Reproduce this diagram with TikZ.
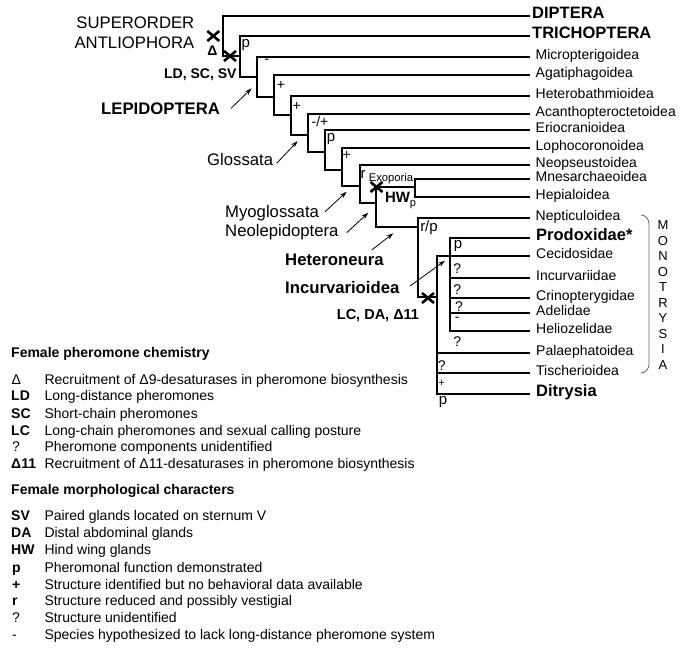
\documentclass[tikz,border=0pt]{standalone}
\usepackage{fontspec}
\setmainfont{Liberation Sans}
\usetikzlibrary{arrows.meta}
\newcommand{\fsz}[1]{\fontsize{#1}{#1}\selectfont}
\tikzset{
  br/.style={line width=1.6pt, line cap=rect},
  tx/.style={anchor=mid west, inner sep=0pt, font=\fsz{14}},
  btx/.style={anchor=mid west, inner sep=0pt, font=\fsz{16.5}\bfseries},
  ch/.style={inner sep=0pt, font=\fsz{14}},
  big/.style={inner sep=0pt, font=\fsz{16.7}},
  bigb/.style={inner sep=0pt, font=\fsz{16.7}\bfseries},
  arr/.style={line width=0.8pt, -{Stealth[length=7pt,width=4.5pt]}},
  key/.style={anchor=mid west, inner sep=0pt, font=\fsz{14}\bfseries},
  keyr/.style={anchor=mid west, inner sep=0pt, font=\fsz{14}},
  desc/.style={anchor=mid west, inner sep=0pt, font=\fsz{14}},
  head/.style={anchor=mid west, inner sep=0pt, font=\fsz{14}\bfseries},
  xmark/.pic={\draw[line width=2.6pt] (-6,-5)--(6,5) (-6,5)--(6,-5);}
}
\begin{document}
\begin{tikzpicture}[x=1pt,y=-1pt]
\useasboundingbox (0,0) rectangle (685,652);
% tips
\foreach \n/\y in {DIP/16,TRI/36,MIC/57,AGA/75,HET/96,ACA/114,ERI/130,LOP/148,NEO/165,MNE/179,HEP/197,NEP/218,PRO/238,CEC/256,INC/278,CRI/298,ADE/313,HEL/331,PAL/353,TIS/373,DIT/394}
  \coordinate (t\n) at (529,\y);
% internal nodes
\coordinate (c0) at (222.7,56);
\coordinate (c1) at (240,77);
\coordinate (c2) at (257,97);
\coordinate (c3) at (274,115);
\coordinate (c4) at (291,135);
\coordinate (c5) at (308,152);
\coordinate (c6) at (325,170);
\coordinate (c7) at (342,186);
\coordinate (c8) at (360,203);
\coordinate (c9) at (376,227);
\coordinate (c9t) at (376,187);
\coordinate (cEx) at (415,197);
\coordinate (c10) at (418,297);
\coordinate (c11) at (436.7,394);
\coordinate (c12) at (450,331);
% tree
\draw[br] (c0) |- (tDIP);
\draw[br] (c0) -- (c0 -| c1);
\draw[br] (c1) |- (tTRI);
\draw[br] (c1) -- (c1 -| c2);
\draw[br] (c2) |- (tMIC);
\draw[br] (c2) -- (c2 -| c3);
\draw[br] (c3) |- (tAGA);
\draw[br] (c3) -- (c3 -| c4);
\draw[br] (c4) |- (tHET);
\draw[br] (c4) -- (c4 -| c5);
\draw[br] (c5) |- (tACA);
\draw[br] (c5) -- (c5 -| c6);
\draw[br] (c6) |- (tERI);
\draw[br] (c6) -- (c6 -| c7);
\draw[br] (c7) |- (tLOP);
\draw[br] (c7) -- (c7 -| c8);
\draw[br] (c8) |- (tNEO);
\draw[br] (c8) -- (c8 -| c9);
\draw[br] (c9) -- (c9t) -- (c9t -| cEx);
\draw[br] (cEx) |- (tMNE);
\draw[br] (cEx) -- (tHEP);
\draw[br] (c9) -- (c9 -| c10);
\draw[br] (c10) |- (tNEP);
\draw[br] (c10) -- (c10 -| c11);
\draw[br] (c11) |- (tCEC);
\draw[br] (c11) -- (tDIT);
\draw[br] (c11 |- tPAL) -- (tPAL);
\draw[br] (c11 |- tTIS) -- (tTIS);
\draw[br] (c12) |- (tPRO);
\draw[br] (c12) -- (tHEL);
\draw[br] (c12 |- tINC) -- (tINC);
\draw[br] (c12 |- tCRI) -- (tCRI);
\draw[br] (c12 |- tADE) -- (tADE);
% taxon labels
\node[btx] (lDIP) at (532,16) {DIPTERA};
\node[btx] (lTRI) at (532,36) {TRICHOPTERA};
\node[tx] (lMIC) at (535.5,57) {Micropterigoidea};
\node[tx] (lAGA) at (535.5,75) {Agatiphagoidea};
\node[tx] (lHET) at (535.5,96) {Heterobathmioidea};
\node[tx] (lACA) at (535.5,114) {Acanthopteroctetoidea};
\node[tx] (lERI) at (535.5,130) {Eriocranioidea};
\node[tx] (lLOP) at (535.5,148) {Lophocoronoidea};
\node[tx] (lNEO) at (535.5,165) {Neopseustoidea};
\node[tx] (lMNE) at (535.5,179) {Mnesarchaeoidea};
\node[tx] (lHEP) at (535.5,197) {Hepialoidea};
\node[tx] (lNEP) at (535.5,218) {Nepticuloidea};
\node[btx] (lPRO) at (536,238) {Prodoxidae*};
\node[tx] (lCEC) at (536,256) {Cecidosidae};
\node[tx] (lINC) at (536,278) {Incurvariidae};
\node[tx] (lCRI) at (536,298) {Crinopterygidae};
\node[tx] (lADE) at (536,313) {Adelidae};
\node[tx] (lHEL) at (536,331) {Heliozelidae};
\node[tx] (lPAL) at (536,353) {Palaephatoidea};
\node[tx] (lTIS) at (536,373) {Tischerioidea};
\node[btx] (lDIT) at (536,394) {Ditrysia};
% character labels on branches
\node[ch, font=\fsz{15}] (s1) at (245.7,45) {p};
\node[ch] (s2) at (266.7,61.7) {-};
\node[ch] (s3) at (281,85.5) {+};
\node[ch] (s4) at (296.7,106) {+};
\node[ch] (s5) at (320,121.7) {-/+};
\node[ch, font=\fsz{15}] (s6) at (331,139) {p};
\node[ch] (s7) at (346.7,155) {+};
\node[ch, font=\fsz{15}] (s8) at (363,174) {r};
\node[ch, font=\fsz{11.2}] (s9) at (391,178.3) {Exoporia};
\node[ch, font=\fsz{15}\bfseries] (s10) at (397.5,197) {HW};
\node[ch, font=\fsz{11}] (s11) at (413,205) {p};
\node[ch, font=\fsz{15}] (s12) at (429,228) {r/p};
\node[ch, font=\fsz{15}] (s13) at (458,246) {p};
\node[ch] (s14) at (457.3,268.3) {?};
\node[ch] (s15) at (457.3,289.3) {?};
\node[ch] (s16) at (459,306.7) {?};
\node[ch] (s17) at (457.3,319.3) {-};
\node[ch] (s18) at (457.3,341.7) {?};
\node[ch] (s19) at (441.7,366) {?};
\node[ch, font=\fsz{11}] (s20) at (441.7,383.3) {+};
\node[ch, font=\fsz{15}] (s21) at (443,402.5) {p};
% crosses
\coordinate (x1) at (213.3,36);
\coordinate (x2) at (230,56);
\coordinate (x3) at (376.5,187);
\coordinate (x4) at (428,298);
\pic at (x1) {xmark};
\pic at (x2) {xmark};
\pic at (x3) {xmark};
\pic at (x4) {xmark};
\node[ch, font=\fsz{14}\bfseries] (dl) at (212.3,50.7) {Δ};
% left labels
\node[big, anchor=mid east] (so1) at (194.5,26) {SUPERORDER};
\node[big, anchor=mid east] (so2) at (194.5,46) {ANTLIOPHORA};
\node[ch, font=\fsz{14}\bfseries, anchor=mid east] (ldsc) at (236.7,76) {LD, SC, SV};
\node[bigb, anchor=mid west] (lep) at (101,111.7) {LEPIDOPTERA};
\node[big, anchor=mid west] (glo) at (207,163.3) {Glossata};
\node[big, anchor=mid west] (myo) at (225,215) {Myoglossata};
\node[big, anchor=mid west] (neol) at (225,234) {Neolepidoptera};
\node[bigb, anchor=mid west] (het) at (285,263.3) {Heteroneura};
\node[bigb, anchor=mid west] (incv) at (285,291) {Incurvarioidea};
\node[ch, font=\fsz{14.5}\bfseries, anchor=mid west] (lcda) at (336.7,316.7) {LC, DA, Δ11};
% arrows
\coordinate (a1s) at (231,108.3); \coordinate (a1e) at (251.7,88.3);
\coordinate (a2s) at (276.7,163.3); \coordinate (a2e) at (297.7,141);
\coordinate (a3s) at (325,211.7); \coordinate (a3e) at (346.7,191.7);
\coordinate (a4s) at (346.7,232.7); \coordinate (a4e) at (368.3,212.7);
\coordinate (a5s) at (371.7,250); \coordinate (a5e) at (393.3,233.3);
\coordinate (a6s) at (410,286); \coordinate (a6e) at (445,260.7);
\draw[arr] (a1s) -- (a1e);
\draw[arr] (a2s) -- (a2e);
\draw[arr] (a3s) -- (a3e);
\draw[arr] (a4s) -- (a4e);
\draw[arr] (a5s) -- (a5e);
\draw[arr] (a6s) -- (a6e);
% Monotrysia bracket
\coordinate (b1) at (641,215);
\coordinate (b2) at (649,224);
\coordinate (b3) at (649,364);
\coordinate (b4) at (641,373);
\draw[gray!80!black, line width=0.8pt] (b1) to[out=0,in=90] (b2) -- (b3) to[out=-90,in=0] (b4);
\foreach \l [count=\i] in {M,O,N,O,T,R,Y,S,I,A}
  \node[ch, font=\fsz{13}] (m\i) at (663,{225+15.55*(\i-1)}) {\l};
% legend
\node[head] (h1) at (11,355) {Female pheromone chemistry};
\node[keyr] (k1) at (11.5,381.7) {Δ};
\node[desc] (d1) at (44.3,381.7) {Recruitment of Δ9-desaturases in pheromone biosynthesis};
\node[key] (k2) at (11,398.3) {LD};
\node[desc] (d2) at (44.3,398.3) {Long-distance pheromones};
\node[key] (k3) at (11,416) {SC};
\node[desc] (d3) at (44.3,416) {Short-chain pheromones};
\node[key] (k4) at (11,432.7) {LC};
\node[desc] (d4) at (44.3,432.7) {Long-chain pheromones and sexual calling posture};
\node[keyr] (k5) at (12,449.3) {?};
\node[desc] (d5) at (44.3,449.3) {Pheromone components unidentified};
\node[key] (k6) at (11,466) {Δ11};
\node[desc] (d6) at (44.3,466) {Recruitment of Δ11-desaturases in pheromone biosynthesis};
\node[head] (h2) at (11,491.7) {Female morphological characters};
\node[key] (k7) at (11,518.3) {SV};
\node[desc] (d7) at (44.3,518.3) {Paired glands located on sternum V};
\node[key] (k8) at (11,535) {DA};
\node[desc] (d8) at (44.3,535) {Distal abdominal glands};
\node[key] (k9) at (11,552.3) {HW};
\node[desc] (d9) at (44.3,552.3) {Hind wing glands};
\node[key] (k10) at (12,570) {p};
\node[desc] (d10) at (44.3,570) {Pheromonal function demonstrated};
\node[key] (k11) at (12,586.7) {+};
\node[desc] (d11) at (44.3,586.7) {Structure identified but no behavioral data available};
\node[key] (k12) at (12,603.3) {r};
\node[desc] (d12) at (44.3,603.3) {Structure reduced and possibly vestigial};
\node[keyr] (k13) at (12,620) {?};
\node[desc] (d13) at (44.3,620) {Structure unidentified};
\node[keyr] (k14) at (12,636.7) {-};
\node[desc] (d14) at (44.3,636.7) {Species hypothesized to lack long-distance pheromone system};
\end{tikzpicture}
\end{document}
